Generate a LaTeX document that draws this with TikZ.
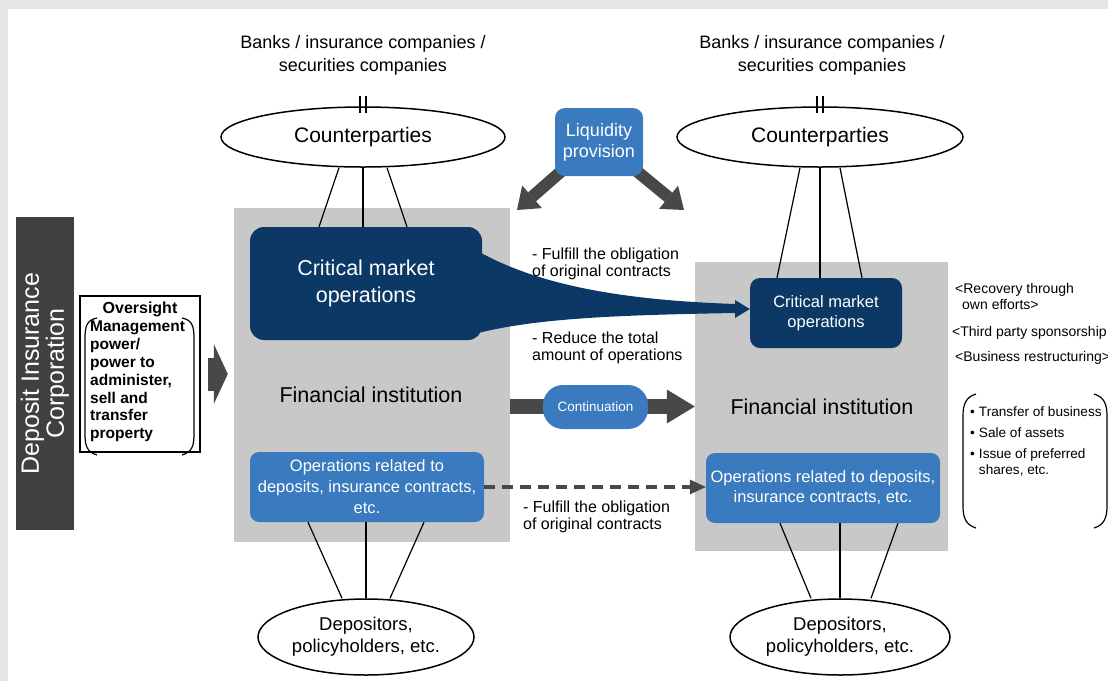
\documentclass[tikz,border=0pt]{standalone}
\usepackage{fontspec}
\setmainfont{Liberation Sans}
\usetikzlibrary{shapes.geometric, arrows.meta, calc, backgrounds}

\definecolor{framegray}{RGB}{229,229,229}
\definecolor{boxgray}{RGB}{200,200,200}
\definecolor{darkbar}{RGB}{64,64,64}
\definecolor{arrowgray}{RGB}{72,72,72}
\definecolor{navy}{RGB}{11,56,100}
\definecolor{midblue}{RGB}{58,122,190}

\newcommand{\fs}[2]{\fontsize{#1}{#2}\selectfont}

\begin{document}
\begin{tikzpicture}[x=1pt, y=-1pt,
  party/.style={ellipse, draw, line width=1.5pt, fill=white, inner sep=0pt, align=center},
  inst/.style={rectangle, fill=boxgray, inner sep=0pt},
  critical/.style={rectangle, rounded corners=14pt, fill=navy, text=white, align=center, inner sep=0pt},
  deposits/.style={rectangle, rounded corners=9pt, fill=midblue, text=white, align=center, inner sep=0pt},
  note/.style={anchor=west, align=left, inner sep=0pt, font=\fs{16}{17}},
  side/.style={anchor=base west, inner sep=0pt, font=\fs{14}{16}},
  fat/.style={draw=arrowgray},
  link/.style={line width=1.2pt},
]
  % Frame
  \begin{pgfonlayer}{background}
    \fill[framegray] (0,0) rectangle (1108,681);
    \fill[white] (8,9) rectangle (1108,681);
  \end{pgfonlayer}
  \useasboundingbox (0,0) rectangle (1108,681);

  % Nodes
  \node (fin1) [inst, minimum width=276pt, minimum height=334pt] at (372,375) {};
  \node (fin2) [inst, minimum width=253pt, minimum height=289pt] at (821.5,406.5) {};
  \node (fi1) [font=\fs{21.5}{24}] at (371,395) {Financial institution};
  \node (fi2) [font=\fs{21.5}{24}] at (822,407) {Financial institution};

  \node (dic) [rotate=90, fill=darkbar, text=white, minimum width=313pt, minimum height=58pt, inner sep=0pt, align=center, font=\fs{25}{25}] at (45,373.5) {Deposit Insurance\\Corporation};

  \node (over) [draw, line width=1.2pt, minimum width=120pt, minimum height=156pt, inner sep=0pt] at (140,374) {};
  \node (overtitle) [font=\bfseries\fs{16}{18}, inner sep=0pt] at (140,309) {Oversight};
  \node (powers) [anchor=north west, align=left, inner sep=0pt, font=\bfseries\fs{15.5}{17.8}] at (90,321) {Management\\power/\\power to\\administer,\\sell and\\transfer\\property};

  \node (banks1) [align=center, font=\fs{18}{23}] at (363,55) {Banks / insurance companies /\\securities companies};
  \node (banks2) [align=center, font=\fs{18}{23}] at (822,55) {Banks / insurance companies /\\securities companies};
  \node (cp1) [party, minimum width=284pt, minimum height=60pt, font=\fs{21}{24}] at (363,137) {Counterparties};
  \node (cp2) [party, minimum width=286pt, minimum height=60pt, font=\fs{21}{24}] at (820,137) {Counterparties};

  \node (crit1) [critical, minimum width=232pt, minimum height=113pt, font=\fs{21.5}{27}] at (366,283.5) {Critical market\\operations};
  \node (crit2) [critical, rounded corners=10pt, minimum width=152pt, minimum height=70pt, font=\fs{16.5}{19.5}] at (826,313) {Critical market\\operations};

  \node (ops1) [deposits, minimum width=234pt, minimum height=70pt, font=\fs{16.5}{21}] at (367,487) {Operations related to\\deposits, insurance contracts,\\etc.};
  \node (ops2) [deposits, minimum width=234pt, minimum height=70pt, font=\fs{16.5}{20}] at (823,488) {Operations related to deposits,\\insurance contracts, etc.};

  \node (dep1) [party, minimum width=216pt, minimum height=76pt, font=\fs{18.5}{22}] at (366,637) {Depositors,\\policyholders, etc.};
  \node (dep2) [party, minimum width=220pt, minimum height=76pt, font=\fs{18.5}{22}] at (840,637) {Depositors,\\policyholders, etc.};

  \node (liq) [deposits, rounded corners=10pt, minimum width=88pt, minimum height=68pt, font=\fs{18}{21}] at (599,142) {Liquidity\\provision};
  \coordinate (liqL) at (517,210);
  \coordinate (liqR) at (684,210);

  % Arrows
  \begin{pgfonlayer}{background}
    \draw[fat, line width=12pt, -{Triangle[length=20pt, width=30pt, line width=0pt]}] ($(liq.south west)+(10,-8)$) -- (liqL);
    \draw[fat, line width=12pt, -{Triangle[length=20pt, width=30pt, line width=0pt]}] ($(liq.south east)+(-10,-8)$) -- (liqR);
  \end{pgfonlayer}
  \draw[fat, line width=33pt, -{Triangle[length=14pt, width=60pt, line width=0pt]}, shorten <=7pt, shorten >=6pt] (over.east) -- (fin1.west |- over.east);
  \draw[fat, line width=15pt, -{Triangle[length=28pt, width=34pt, line width=0pt]}] (fin1.east |- fin2.west) -- (fin2.west);
  \node (cont) [deposits, rounded corners=20pt, minimum width=105pt, minimum height=44pt, font=\fs{13.5}{16}] at (595.5,407) {Continuation};
  \draw[arrowgray, line width=3.5pt, dash pattern=on 11pt off 7pt, -{Triangle[length=16pt, width=15pt, line width=0pt]}] (ops1.east) -- (ops2.west |- ops1.east);
  \fill[navy] ($(crit1.east)+(-2,-31)$) .. controls (540,285) and (620,300) .. (735,304) -- (735,300) -- ($(crit2.west)+(0,-4)$) -- (735,318) -- (735,313) .. controls (620,315) and (540,318) .. ($(crit1.east)+(-2,49)$) -- cycle;

  % Links
  \foreach \d in {-3,3} {
    \draw[link] ($(cp1.north)+(\d,-10)$) -- ++(0,17);
    \draw[link] ($(cp2.north)+(\d,-10)$) -- ++(0,17);
  }
  \foreach \a/\b in {-24/-44, 0/0, 24/44}
    \draw[link] ($(cp1.south)+(\a,0)$) -- ($(cp1.south |- crit1.north)+(\b,0)$);
  \foreach \a/\b in {-20/-43, 0/0, 20/42}
    \draw[link] ($(cp2.south)+(\a,0)$) -- ($(cp2.south |- crit2.north)+(\b,0)$);
  \foreach \a/\b in {-58/-24, 0/0, 58/24}
    \draw[link] ($(dep1.north |- ops1.south)+(\a,0)$) -- ($(dep1.north)+(\b,0)$);
  \foreach \a/\b in {-60/-29, 0/0, 58/31}
    \draw[link] ($(dep2.north |- ops2.south)+(\a,0)$) -- ($(dep2.north)+(\b,0)$);

  % Brackets
  \draw[link] (97,318) .. controls (87,320) and (85,326) .. (85,338) -- (85,434) .. controls (85,446) and (87,452) .. (97,455);
  \draw[link] (182,318) .. controls (192,320) and (194,326) .. (194,338) -- (194,434) .. controls (194,446) and (192,452) .. (182,455);
  \draw[link] (976,394) .. controls (966,397) and (963,404) .. (963,416) -- (963,506) .. controls (963,518) and (966,525) .. (976,528);
  \draw[link] (1094,394) .. controls (1104,397) and (1107,404) .. (1107,416) -- (1107,506) .. controls (1107,518) and (1104,525) .. (1094,528);

  % Texts
  \node (fulfil1) [note] at (532,264) {- Fulfill the obligation\\of original contracts};
  \node (reduce) [note] at (532,348) {- Reduce the total\\amount of operations};
  \node (fulfil2) [note] at (523,517) {- Fulfill the obligation\\of original contracts};
  \node (recovery) [side] at (955,293) {<Recovery through};
  \node (efforts) [side] at (962,309) {own efforts>};
  \node (sponsor) [side] at (952,336) {<Third party sponsorship};
  \node (restruct) [side] at (955,361) {<Business restructuring>};
  \node (measures) [anchor=north west, inner sep=0pt, font=\fs{13.6}{16}] at (970,405) {\begin{tabular}{@{}l@{\hspace{4pt}}l@{}}\textbullet & Transfer of business\\[5pt] \textbullet & Sale of assets\\[5pt] \textbullet & Issue of preferred\\ & shares, etc.\end{tabular}};
\end{tikzpicture}
\end{document}
